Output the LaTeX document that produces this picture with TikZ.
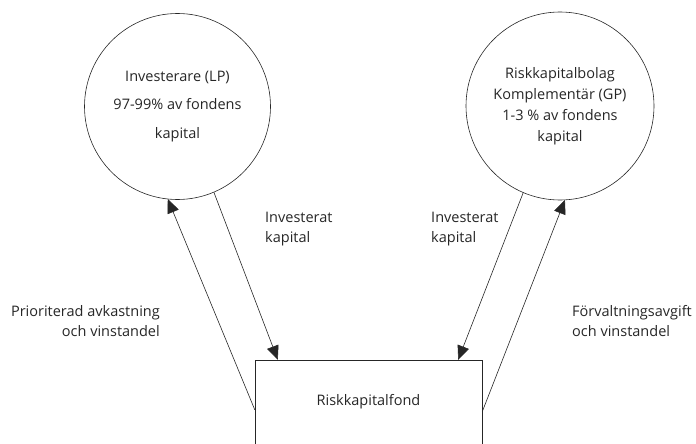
\documentclass[tikz,border=0pt]{standalone}
\usepackage{fontspec}
\setmainfont{Open Sans}
\usepackage{tikz}
\usetikzlibrary{arrows.meta}
\definecolor{ink}{gray}{0.15}

\begin{document}
\begin{tikzpicture}[x=1pt,y=-1pt,
  party/.style={draw=ink,line width=0.6pt,circle,inner sep=0pt,outer sep=0pt,align=center,text=ink},
  lbl/.style={inner sep=0pt,text=ink,font=\fontsize{14.5}{20}\selectfont},
  flow/.style={draw=ink,line width=0.6pt,-{Triangle[length=14pt,width=12pt]}}]
\useasboundingbox (0,0) rectangle (696,444);
\clip (0,0) rectangle (696,444);
\node [party,minimum size=186pt,font=\fontsize{14.5}{28.5}\selectfont] (lp) at (177.5,106.5) {Investerare (LP)\\97-99\% av fondens\\kapital};
\node [party,minimum size=188pt,font=\fontsize{14.5}{21}\selectfont] (gp) at (560,106) {Riskkapitalbolag\\Komplementär (GP)\\1-3 \% av fondens\\kapital};
\node [lbl,minimum width=227pt,minimum height=84pt] (fund) at (368.5,402) {Riskkapitalfond};
\draw [ink,line width=0.6pt] ([yshift=-10pt]fund.south west) -- (fund.north west) -- (fund.north east) -- ([yshift=-10pt]fund.south east);
\draw [flow] (lp.293) -- ([xshift=23pt]fund.north west);
\draw [flow] ([yshift=-50pt]fund.north west) -- (lp.264);
\draw [flow] (gp.247) -- ([xshift=-24pt]fund.north east);
\draw [flow] ([yshift=-52pt]fund.north east) -- (gp.273);
\node [lbl,anchor=west,align=left] (capL) at (265,229) {Investerat\\kapital};
\node [lbl,anchor=west,align=left] (capR) at (431,229) {Investerat\\kapital};
\node [lbl,anchor=east,align=right] (retL) at (160,321) {Prioriterad avkastning\\och vinstandel};
\node [lbl,anchor=west,align=left] (feeR) at (572,321) {Förvaltningsavgift\\och vinstandel};
\end{tikzpicture}
\end{document}
